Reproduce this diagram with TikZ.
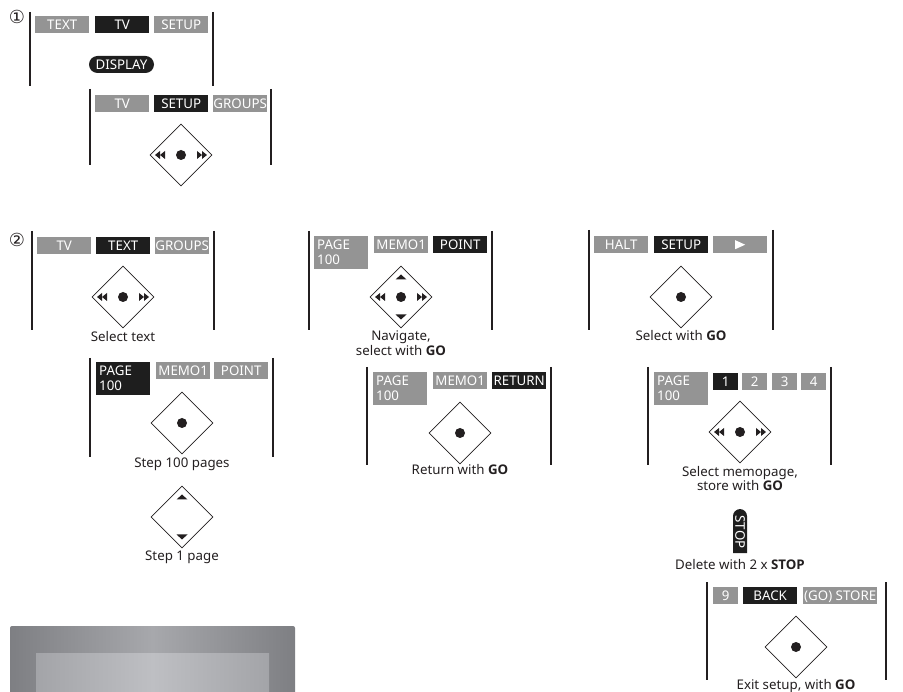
\documentclass[tikz,border=0pt]{standalone}
\usepackage{fontspec}
\setmainfont{Noto Sans}
\newfontfamily\symfont{DejaVu Sans}
\newfontfamily\gofont{Open Sans}
\newcommand\gob[1]{{\gofont\bfseries #1}}
\usetikzlibrary{shapes.geometric,shapes.misc}
\definecolor{btngrey}{HTML}{949494}
\definecolor{btnblack}{HTML}{1E1E1E}
\definecolor{ink}{HTML}{231F20}
\definecolor{scrA}{HTML}{7E7F83}
\definecolor{scrB}{HTML}{A7A8AC}
\definecolor{scrC}{HTML}{A3A4A8}
\definecolor{scrD}{HTML}{BEBFC3}
\newcommand\txtfont{\fontsize{13.3pt}{15pt}\selectfont}
\begin{document}
\begin{tikzpicture}[x=1pt,y=-1pt,
  btn/.style={anchor=north west, inner sep=0pt, minimum height=17pt, minimum width=54pt,
    text=white, font=\txtfont, text height=9.4pt, text depth=0pt},
  gbtn/.style={btn, fill=btngrey},
  kbtn/.style={btn, fill=btnblack},
  pagebtn/.style={anchor=north west, inner xsep=3pt, inner ysep=0pt, text width=48pt,
    minimum height=33pt, align=left, text=white, font=\txtfont},
  gpage/.style={pagebtn, fill=btngrey},
  kpage/.style={pagebtn, fill=btnblack},
  pill/.style={rounded rectangle, fill=btnblack, text=white, font=\txtfont, inner sep=0pt,
    text height=9.4pt, text depth=0pt},
  bar/.style={line width=2pt, draw=ink},
  pad/.style={diamond, draw=ink, line width=0.8pt, fill=white, minimum width=62pt,
    minimum height=62pt, inner sep=0pt},
  lbl/.style={anchor=base, text=ink, font=\txtfont, inner sep=0pt},
  num/.style={text=ink, font=\symfont\fontsize{18pt}{18pt}\selectfont, inner sep=0pt},
  pics/ctrldot/.style={code={\fill[ink] (0,0) circle (5pt);}},
  pics/ctrllr/.style={code={
    \fill[ink] (-26,0) -- (-21,-4) -- (-21,4) -- cycle;
    \fill[ink] (-21,0) -- (-16,-4) -- (-16,4) -- cycle;
    \fill[ink] (26,0) -- (21,-4) -- (21,4) -- cycle;
    \fill[ink] (21,0) -- (16,-4) -- (16,4) -- cycle;}},
  pics/ctrlud/.style={code={
    \fill[ink] (0,-22.5) -- (-5.5,-17.5) -- (5.5,-17.5) -- cycle;
    \fill[ink] (0,22.5) -- (-5.5,17.5) -- (5.5,17.5) -- cycle;}},
  pics/playtri/.style={code={\fill[white] (-5,-4.5) -- (5,0) -- (-5,4.5) -- cycle;}}
]
\useasboundingbox (0,0) rectangle (903,692);

% ---------- panel 1 ----------
\node[num] (n1) at (17,17) {①};
\draw[bar] (30,12) -- (30,86);
\draw[bar] (213,12) -- (213,86);
\node[gbtn] (a1) at (35,16) {TEXT};
\node[kbtn] (a2) at (95,16) {TV};
\node[gbtn] (a3) at (154,16) {SETUP};
\node[pill, minimum width=65pt, minimum height=17pt] (disp) at (121.5,64.5) {DISPLAY};

\draw[bar] (90,89) -- (90,165);
\draw[bar] (271,89) -- (271,165);
\node[gbtn] (b1) at (95,95) {TV};
\node[kbtn] (b2) at (154,95) {SETUP};
\node[gbtn] (b3) at (213,95) {GROUPS};
\node[pad] (d1) at (181,155) {};
\pic at (d1.center) {ctrllr};
\pic at (d1.center) {ctrldot};

% ---------- panel 2 ----------
\node[num] (n2) at (17,240) {②};
\draw[bar] (32,231) -- (32,330);
\draw[bar] (214,231) -- (214,330);
\node[gbtn] (c1) at (37,237) {TV};
\node[kbtn] (c2) at (96,237) {TEXT};
\node[gbtn] (c3) at (155,237) {GROUPS};
\node[pad] (d2) at (123,297) {};
\pic at (d2.center) {ctrllr};
\pic at (d2.center) {ctrldot};
\node[lbl] (l2) at (123,342) {Select text};

% ---------- panel 3 ----------
\draw[bar] (309,231) -- (309,330);
\draw[bar] (492,231) -- (492,330);
\node[gpage] (e1) at (314,236) {PAGE\\100};
\node[gbtn] (e2) at (374,236) {MEMO1};
\node[kbtn] (e3) at (433,236) {POINT};
\node[pad] (d3) at (401,297) {};
\pic at (d3.center) {ctrllr};
\pic at (d3.center) {ctrlud};
\pic at (d3.center) {ctrldot};
\node[lbl] (l3a) at (401,341) {Navigate,};
\node[lbl] (l3b) at (401,356) {select with \gob{GO}};

% ---------- panel 4 ----------
\draw[bar] (589,230) -- (589,330);
\draw[bar] (773,230) -- (773,330);
\node[gbtn] (f1) at (594,236) {HALT};
\node[kbtn] (f2) at (654,236) {SETUP};
\node[gbtn] (f3) at (713,236) {};
\pic at (f3.center) {playtri};
\node[pad] (d4) at (681,297) {};
\pic at (d4.center) {ctrldot};
\node[lbl] (l4) at (681,341) {Select with \gob{GO}};

% ---------- panel 5 ----------
\draw[bar] (90,358) -- (90,457);
\draw[bar] (273,358) -- (273,457);
\node[kpage] (g1) at (96,362) {PAGE\\100};
\node[gbtn] (g2) at (156,362) {MEMO1};
\node[gbtn] (g3) at (214,362) {POINT};
\node[pad] (d5) at (182,423) {};
\pic at (d5.center) {ctrldot};
\node[lbl] (l5) at (182,468) {Step 100 pages};
\node[pad] (d5b) at (182,517) {};
\pic at (d5b.center) {ctrlud};
\node[lbl] (l5b) at (182,561) {Step 1 page};

% ---------- panel 6 ----------
\draw[bar] (367,367) -- (367,465);
\draw[bar] (551,367) -- (551,465);
\node[gpage] (h1) at (373,372) {PAGE\\100};
\node[gbtn] (h2) at (433,372) {MEMO1};
\node[kbtn] (h3) at (492,372) {RETURN};
\node[pad] (d6) at (460,433) {};
\pic at (d6.center) {ctrldot};
\node[lbl] (l6) at (460,475) {Return with \gob{GO}};

% ---------- panel 7 ----------
\draw[bar] (648,367) -- (648,465);
\draw[bar] (831,367) -- (831,465);
\node[gpage] (k1) at (654,372) {PAGE\\100};
\node[kbtn, minimum width=25pt] (k2) at (713,373) {1};
\node[gbtn, minimum width=25pt] (k3) at (742,373) {2};
\node[gbtn, minimum width=25pt] (k4) at (772,373) {3};
\node[gbtn, minimum width=25pt] (k5) at (801,373) {4};
\node[pad] (d7) at (740,432) {};
\pic at (d7.center) {ctrllr};
\pic at (d7.center) {ctrldot};
\node[lbl] (l7a) at (740,477) {Select memopage,};
\node[lbl] (l7b) at (740,491) {store with \gob{GO}};

% ---------- stop ----------
\node[pill, rotate=-90, rounded rectangle east arc=none, minimum width=44pt,
  minimum height=14pt] (stop) at (740,532) {STOP};
\node[lbl] (l8) at (740,569) {Delete with 2 x \gob{STOP}};

% ---------- panel 8 ----------
\draw[bar] (707,582) -- (707,680);
\draw[bar] (886,582) -- (886,680);
\node[gbtn, minimum width=25pt] (m1) at (713,587) {9};
\node[kbtn] (m2) at (743,587) {BACK};
\node[gbtn, minimum width=74pt] (m3) at (803,587) {(GO) STORE};
\node[pad] (d8) at (796,647) {};
\pic at (d8.center) {ctrldot};
\node[lbl] (l9) at (796,689) {Exit setup, with \gob{GO}};

% ---------- screen ----------
\shade[left color=scrA, right color=scrA, middle color=scrB, rounded corners=2pt]
  (10,626) rectangle (295,700);
\shade[left color=scrC, right color=scrC, middle color=scrD] (36,653) rectangle (269,700);
\end{tikzpicture}
\end{document}
